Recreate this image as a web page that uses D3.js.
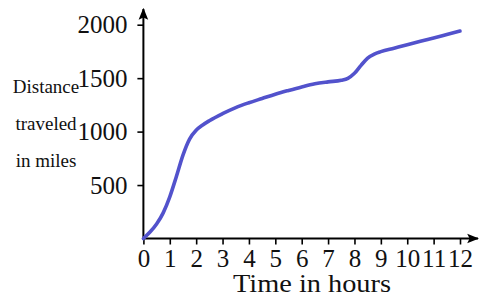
<!DOCTYPE html>
<html>
<head>
<meta charset="utf-8">
<script src="https://cdn.jsdelivr.net/npm/d3@7"></script>
<style>
  html, body { margin: 0; padding: 0; background: #fff; }
  svg { display: block; }
</style>
</head>
<body>
<svg id="chart" width="479" height="299"></svg>
<script>
// distance traveled vs time
const hours = [0, 0.25, 0.5, 0.75, 1, 1.25, 1.5, 1.75, 2, 2.25, 2.5, 3, 3.5, 4, 4.5, 5, 5.5, 6, 6.5, 7, 7.5, 7.75, 8, 8.25, 8.5, 8.75, 9, 9.5, 10, 10.5, 11, 11.5, 12];
const miles = [0, 60, 135, 240, 390, 580, 780, 930, 1012, 1062, 1102, 1168, 1225, 1270, 1310, 1350, 1385, 1418, 1447, 1465, 1480, 1498, 1545, 1620, 1688, 1725, 1748, 1780, 1812, 1845, 1876, 1908, 1940];
const xTicks = [0, 1, 2, 3, 4, 5, 6, 7, 8, 9, 10, 11, 12];
const yTicks = [500, 1000, 1500, 2000];
const yLabelLines = ["Distance", "traveled", "in miles"];
const xLabel = "Time in hours";

const FONT = "Liberation Serif, Times New Roman, serif";
const svg = d3.select("#chart");

const x = d3.scaleLinear().domain([0, 12]).range([143.4, 460]);
const y = d3.scaleLinear().domain([0, 2000]).range([238.5, 24.7]);

// 箭头
svg.append("defs").append("marker")
  .attr("id", "arrow")
  .attr("viewBox", "0 0 10 10")
  .attr("refX", 9).attr("refY", 5)
  .attr("markerWidth", 6).attr("markerHeight", 6)
  .attr("markerUnits", "strokeWidth")
  .attr("orient", "auto")
  .append("path")
  .attr("d", "M0,1 L10,5 L0,9 L2,5 Z")
  .attr("fill", "#000");

// x 轴
const xAxisG = svg.append("g").attr("transform", `translate(0,${y(0)})`);
xAxisG.call(d3.axisBottom(x).tickValues(xTicks).tickSize(6).tickPadding(5).tickFormat(d3.format("d")));
xAxisG.select(".domain").remove();
xAxisG.selectAll(".tick line").attr("stroke", "#000").attr("stroke-width", 1.6);
xAxisG.selectAll(".tick text")
  .attr("font-size", 25)
  .attr("font-family", FONT)
  .attr("fill", "#111");

// y 轴
const yAxisG = svg.append("g").attr("transform", `translate(${x(0)},0)`);
yAxisG.call(d3.axisLeft(y).tickValues(yTicks).tickSize(6).tickPadding(10).tickFormat(d3.format("d")));
yAxisG.select(".domain").remove();
yAxisG.selectAll(".tick line").attr("stroke", "#000").attr("stroke-width", 1.6);
yAxisG.selectAll(".tick text")
  .attr("font-size", 25)
  .attr("font-family", FONT)
  .attr("fill", "#111");

// 轴线 + 箭头
svg.append("line")
  .attr("x1", x(0)).attr("y1", y(0))
  .attr("x2", 478).attr("y2", y(0))
  .attr("stroke", "#000").attr("stroke-width", 2)
  .attr("marker-end", "url(#arrow)");
svg.append("line")
  .attr("x1", x(0)).attr("y1", y(0) + 1)
  .attr("x2", x(0)).attr("y2", 9)
  .attr("stroke", "#000").attr("stroke-width", 2)
  .attr("marker-end", "url(#arrow)");

// 曲线
const data = hours.map((h, i) => ({ h, m: miles[i] }));
svg.append("path")
  .datum(data)
  .attr("fill", "none")
  .attr("stroke", "#5252cc")
  .attr("stroke-width", 3.6)
  .attr("stroke-linecap", "round")
  .attr("d", d3.line().x(d => x(d.h)).y(d => y(d.m)).curve(d3.curveMonotoneX));

// 轴标签
svg.append("text")
  .attr("x", 312).attr("y", 292)
  .attr("text-anchor", "middle")
  .attr("font-family", FONT)
  .attr("font-size", 25)
  .attr("fill", "#111")
  .attr("textLength", 158)
  .attr("lengthAdjust", "spacingAndGlyphs")
  .text(xLabel);

svg.selectAll("text.ylab")
  .data(yLabelLines)
  .enter()
  .append("text")
  .attr("class", "ylab")
  .attr("x", 46)
  .attr("y", (d, i) => 93 + i * 37)
  .attr("text-anchor", "middle")
  .attr("font-family", FONT)
  .attr("font-size", 19)
  .attr("fill", "#111")
  .text(d => d);
</script>
</body>
</html>
